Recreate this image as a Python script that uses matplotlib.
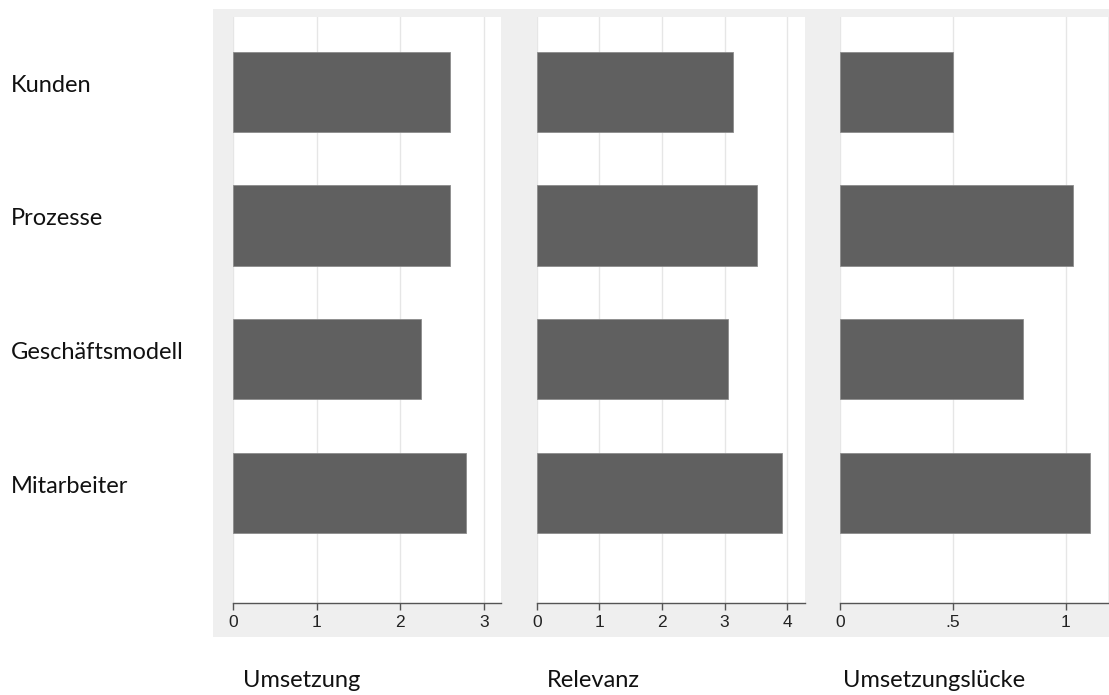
import matplotlib
matplotlib.use("Agg")
import matplotlib.pyplot as plt
from matplotlib.patches import Rectangle
import matplotlib.transforms as mtransforms

# data
categories = ["Kunden", "Prozesse", "Geschäftsmodell", "Mitarbeiter"]
umsetzung = [2.60, 2.60, 2.25, 2.79]
relevanz = [3.13, 3.52, 3.06, 3.92]
luecke = [0.50, 1.035, 0.81, 1.11]

panel_titles = ["Umsetzung", "Relevanz", "Umsetzungslücke"]
panel_ticks = [[0, 1, 2, 3], [0, 1, 2, 3, 4], [0, 0.5, 1]]
panel_ticklabels = [["0", "1", "2", "3"], ["0", "1", "2", "3", "4"], ["0", ".5", "1"]]
panel_xmax = [3.21, 4.28, 1.19]

W, H = 1109, 695
fig = plt.figure(figsize=(W / 100, H / 100), dpi=100)

# light grey graph region behind the three panels
fig.patches.append(Rectangle((213 / W, 1 - 637 / H), (W - 213) / W, (637 - 9) / H,
                             transform=fig.transFigure, facecolor="#efefef",
                             edgecolor="none", zorder=-10))

lefts = [233.3, 536.7, 840.3]
pw = 268
bottom = 1 - 602.5 / H
height = (602.5 - 17) / H

y = list(range(len(categories)))
axes = []
for i, vals in enumerate([umsetzung, relevanz, luecke]):
    ax = fig.add_axes([lefts[i] / W, bottom, pw / W, height])
    ax.set_facecolor("white")
    ax.barh(y, vals, height=0.6, color="#606060", edgecolor="#8c8c8c", linewidth=0.6, zorder=3)
    ax.set_ylim(3.82, -0.56)
    ax.set_xlim(0, panel_xmax[i])
    ax.set_xticks(panel_ticks[i])
    ax.set_xticklabels(panel_ticklabels[i], fontsize=12.5, family="Liberation Sans", color="#222222")
    ax.set_yticks([])
    ax.grid(axis="x", color="#e6e6e6", linewidth=1, zorder=0)
    for s in ["top", "right", "left"]:
        ax.spines[s].set_visible(False)
    ax.spines["bottom"].set_color("#555555")
    ax.spines["bottom"].set_linewidth(1)
    ax.tick_params(axis="x", length=4.7, width=1, color="#555555", pad=4.5)
    axes.append(ax)

# panel captions under the axes
title_x = [243, 546.7, 842.7]
for tx, t in zip(title_x, panel_titles):
    fig.text(tx / W, 1 - 687 / H, t, fontsize=17, family="Lato", color="#111111",
             ha="left", va="baseline")

# category labels on the left
trans = mtransforms.blended_transform_factory(fig.transFigure, axes[0].transData)
for yi, c in zip(y, categories):
    axes[0].text(11 / W, yi - 0.05, c, transform=trans, fontsize=17, family="Lato",
                 color="#111111", ha="left", va="center", clip_on=False)

fig.savefig("out.png", dpi=100)
